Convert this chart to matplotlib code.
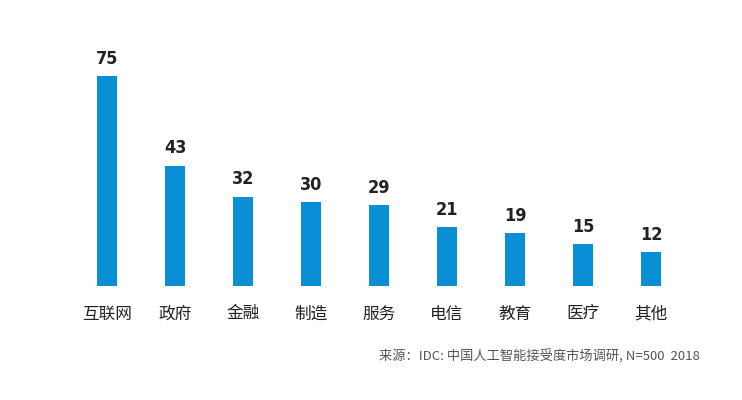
import matplotlib.pyplot as plt

categories = ['互联网', '政府', '金融', '制造', '服务', '电信', '教育', '医疗', '其他']
values = [75, 43, 32, 30, 29, 21, 19, 15, 12]
source = '来源：IDC: 中国人工智能接受度市场调研, N=500  2018'

plt.rcParams['font.family'] = 'Noto Sans CJK SC'

fig = plt.figure(figsize=(7.42, 4.0), dpi=100)
ax = fig.add_axes([73 / 742, 114 / 400, 612 / 742, 246 / 400])
x = range(len(values))
ax.bar(x, values, width=0.3, color='#0a8ed6')
for i, v in zip(x, values):
    ax.text(i, v + 3, str(v), ha='center', va='bottom', fontsize=13,
            fontweight='bold', color='#222222', family='DejaVu Sans',
            fontstretch='condensed')
ax.set_xlim(-0.5, len(values) - 0.5)
ax.set_ylim(0, 88)
ax.set_xticks(list(x))
ax.set_xticklabels(categories, fontsize=12, color='#222222')
ax.tick_params(axis='x', length=0, pad=14)
ax.set_yticks([])
for s in ax.spines.values():
    s.set_visible(False)

fig.text(700 / 742, 1 - 357 / 400, source, ha='right', va='center',
         fontsize=9.5, color='#555555')
fig.savefig('out.png', dpi=100)
